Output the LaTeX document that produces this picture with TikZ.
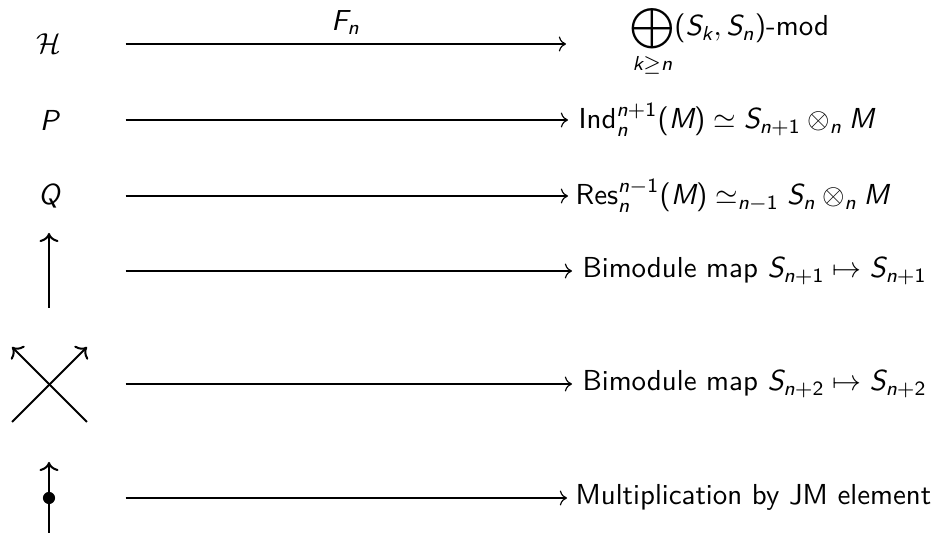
\documentclass[tikz,border=0pt]{standalone}
\usepackage{amsmath}
\usetikzlibrary{arrows.meta,calc}
% sans-serif math letters and upright sans pieces
\newcommand\mi[1]{\text{\sffamily\slshape #1}}
\newcommand\mn[1]{\text{\sffamily\upshape #1}}
\begin{document}
\begin{tikzpicture}[x=0.346pt,y=-0.346pt,
  font=\sffamily,
  cell/.style={inner sep=0pt, minimum width=52.6pt, minimum height=10pt},
  target/.style={inner sep=0pt, anchor=base west},
  map/.style={line width=0.4pt, -{Computer Modern Rightarrow}},
  strand/.style={line width=0.7pt},
  tip/.style={-{Computer Modern Rightarrow}}]
\useasboundingbox (0,0) rectangle (934,535);

% generators and diagrams in the left column
\node[cell] (H) at (49,44) {$\mathcal{H}$};
\node[cell] (P) at (49,120) {$\mi{P}$};
\node[cell] (Q) at (49,196) {$\mi{Q}$};
\node[cell] (up) at (49,271) {};
\node[cell] (cross) at (49,384) {};
\node[cell] (dot) at (49,498) {};

% their images under the functor
\node[target] (Hr) at (630,36)
  {$\displaystyle\bigoplus_{\mi{k}\geq\mi{n}}\!\mn{(}\mi{S}_{\mi{k}},\mi{S}_{\mi{n}}\mn{)}$-mod};
\node[target] (Pr) at (578,129)
  {$\mn{Ind}_{\mi{n}}^{\mi{n}+\mn{1}}\mn{(}\mi{M}\mn{)}\simeq\mi{S}_{\mi{n}+\mn{1}}\otimes_{\mi{n}}\mi{M}$};
\node[target] (Qr) at (575,205)
  {$\mn{Res}_{\mi{n}}^{\mi{n}-\mn{1}}\mn{(}\mi{M}\mn{)}\simeq_{\mi{n}-\mn{1}}\mi{S}_{\mi{n}}\otimes_{\mi{n}}\mi{M}$};
\node[target] (Ur) at (582,278)
  {Bimodule map $\mi{S}_{\mi{n}+\mn{1}}\mapsto\mi{S}_{\mi{n}+\mn{1}}$};
\node[target] (Xr) at (582,391)
  {Bimodule map $\mi{S}_{\mi{n}+\mn{2}}\mapsto\mi{S}_{\mi{n}+\mn{2}}$};
\node[target] (Dr) at (575,505) {Multiplication by JM element};

% the maps
\draw[map] (H.east) -- node[above,inner sep=3pt] (Fn) {$\mi{F}_{\mi{n}}$} ($(H.east -| Hr.west)+(-64,0)$);
\draw[map] (P.east) -- ($(P.east -| Pr.west)+(-10,0)$);
\draw[map] (Q.east) -- ($(Q.east -| Qr.west)+(-7,0)$);
\draw[map] (up.east) -- ($(up.east -| Ur.west)+(-10,0)$);
\draw[map] (cross.east) -- ($(cross.east -| Xr.west)+(-10,0)$);
\draw[map] (dot.east) -- ($(dot.east -| Dr.west)+(-8,0)$);

% string diagrams
\draw[strand,tip] ($(up)+(0,37)$) -- ($(up)+(0,-38)$);
\draw[strand,tip] ($(cross)+(-37,38)$) -- ($(cross)+(38,-37)$);
\draw[strand,tip] ($(cross)+(38,38)$) -- ($(cross)+(-37,-37)$);
\draw[strand,tip] ($(dot)+(0,35)$) -- ($(dot)+(0,-36)$);
\fill (dot) circle (2.1pt);
\end{tikzpicture}
\end{document}
